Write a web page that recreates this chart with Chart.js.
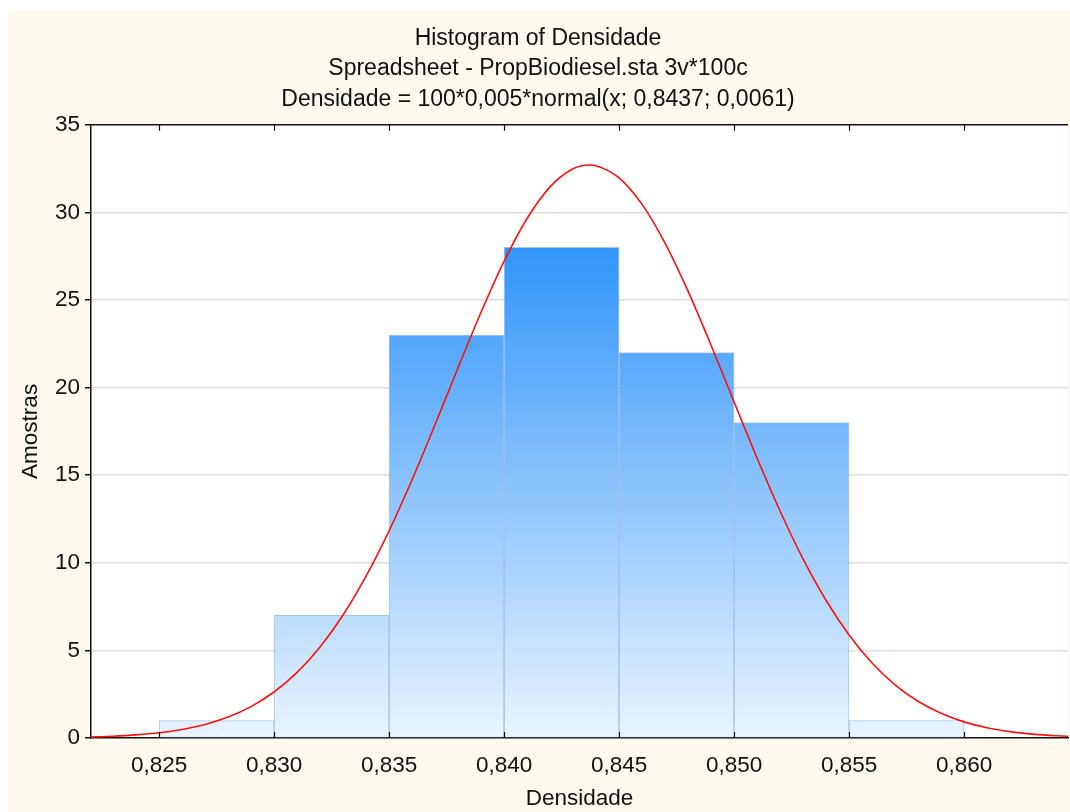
<!DOCTYPE html>
<html>
<head>
<meta charset="utf-8">
<script src="https://cdn.jsdelivr.net/npm/chart.js@4/dist/chart.umd.min.js"></script>
<style>
  html, body { margin: 0; padding: 0; background: #ffffff; }
  #wrap { position: absolute; left: 8px; top: 10px; width: 1062px; height: 802px; background: #fdf9ef; }
  canvas { display: block; }
</style>
</head>
<body>
<div id="wrap"><canvas id="c" width="1062" height="802"></canvas></div>
<script>
// ---- data ----
const titleLines = [
  'Histogram of Densidade',
  'Spreadsheet - PropBiodiesel.sta 3v*100c',
  'Densidade = 100*0,005*normal(x; 0,8437; 0,0061)'
];
const xTitle = 'Densidade';
const yTitle = 'Amostras';
const binCenters = [0.8275, 0.8325, 0.8375, 0.8425, 0.8475, 0.8525, 0.8575];
const binCounts  = [1, 7, 23, 28, 22, 18, 1];
const curveX = [0.822,0.823,0.824,0.825,0.826,0.827,0.828,0.829,0.830,0.831,0.832,0.833,0.834,0.835,0.836,0.837,0.838,0.839,0.840,0.841,0.842,0.843,0.8437,0.844,0.845,0.846,0.847,0.848,0.849,0.850,0.851,0.852,0.853,0.854,0.855,0.856,0.857,0.858,0.859,0.860,0.861,0.862,0.863,0.864,0.865];
const curveY = [0.058,0.103,0.178,0.298,0.486,0.771,1.192,1.793,2.625,3.743,5.196,7.022,9.236,11.826,14.742,17.889,21.131,24.301,27.205,29.648,31.455,32.486,32.700,32.660,31.966,30.456,28.249,25.505,22.420,19.183,15.979,12.958,10.228,7.860,5.880,4.281,3.036,2.095,1.408,0.921,0.586,0.363,0.219,0.129,0.074];
const xTickValues = [0.825, 0.830, 0.835, 0.840, 0.845, 0.850, 0.855, 0.860];
const yTickValues = [0, 5, 10, 15, 20, 25, 30, 35];
const xMin = 0.82204, xMax = 0.86452, yMin = 0, yMax = 35;

const FONT = 'Liberation Sans, Arial, sans-serif';
const FS = 22.5;
const fmt = v => v.toFixed(3).replace('.', ',');

function barGradient(ctx) {
  const chart = ctx.chart;
  const a = chart.chartArea;
  if (!a) return '#60aefc';
  const g = chart.ctx.createLinearGradient(0, a.top, 0, a.bottom);
  g.addColorStop(0, '#1f8cf9');
  g.addColorStop(0.2, '#3195fb');
  g.addColorStop(1, '#e9f4fe');
  return g;
}

const framePlugin = {
  id: 'frame',
  beforeDraw(chart) {
    const a = chart.chartArea, c = chart.ctx;
    c.save();
    c.fillStyle = '#ffffff';
    c.fillRect(a.left, a.top, a.right - a.left, a.bottom - a.top);
    c.restore();
  },
  afterDraw(chart) {
    const a = chart.chartArea, c = chart.ctx, xs = chart.scales.x;
    c.save();
    c.strokeStyle = '#111';
    c.lineWidth = 1.5;
    c.beginPath();
    c.moveTo(a.left, a.top); c.lineTo(a.right, a.top);
    c.stroke();
    c.lineWidth = 1.2;
    xTickValues.forEach(v => {
      const px = Math.round(xs.getPixelForValue(v)) + 0.5;
      c.beginPath();
      c.moveTo(px, a.bottom); c.lineTo(px, a.bottom - 6);
      c.moveTo(px, a.top); c.lineTo(px, a.top + 6);
      c.stroke();
    });
    c.restore();
  }
};

new Chart(document.getElementById('c'), {
  data: {
    datasets: [
      {
        type: 'line',
        data: curveX.map((x, i) => ({ x, y: curveY[i] })),
        borderColor: '#ff1010',
        borderWidth: 1.6,
        pointRadius: 0,
        cubicInterpolationMode: 'monotone',
        fill: false,
        order: 0
      },
      {
        type: 'bar',
        data: binCenters.map((x, i) => ({ x, y: binCounts[i] })),
        backgroundColor: barGradient,
        borderColor: 'rgba(40,110,210,0.4)',
        borderWidth: 1,
        barPercentage: 1,
        categoryPercentage: 1,
        order: 1
      }
    ]
  },
  options: {
    responsive: false,
    animation: false,
    layout: { padding: { left: 0, right: 2, top: 0, bottom: 0 } },
    plugins: {
      legend: { display: false },
      tooltip: { enabled: false },
      title: {
        display: true,
        text: titleLines,
        color: '#111',
        font: { family: FONT, size: 23, weight: 'normal', lineHeight: 1.33 },
        padding: { top: 13, bottom: 10 }
      }
    },
    scales: {
      x: {
        type: 'linear',
        offset: false,
        min: xMin, max: xMax,
        afterBuildTicks: s => { s.ticks = xTickValues.map(v => ({ value: v })); },
        afterFit: s => { s.height = 74; },
        grid: { display: false, drawTicks: false, offset: false },
        border: { display: true, color: '#111', width: 1.5 },
        ticks: {
          color: '#111', padding: 14,
          font: { family: FONT, size: FS },
          callback: v => fmt(v),
          maxRotation: 0, autoSkip: false
        },
        title: {
          display: true, text: xTitle, color: '#111',
          font: { family: FONT, size: FS },
          padding: { top: 4, bottom: 0 }
        }
      },
      y: {
        min: yMin, max: yMax,
        afterBuildTicks: s => { s.ticks = yTickValues.map(v => ({ value: v })); },
        afterFit: s => { s.width = 83; },
        grid: {
          color: ctx => (ctx.tick && (ctx.tick.value === 0 || ctx.tick.value === 35)) ? 'rgba(0,0,0,0)' : '#dedede',
          lineWidth: 1.5,
          drawTicks: true, tickLength: 6, tickColor: '#111'
        },
        border: { display: true, color: '#111', width: 1.5 },
        ticks: {
          color: '#111', padding: 5,
          font: { family: FONT, size: FS }
        },
        title: {
          display: true, text: yTitle, color: '#111',
          font: { family: FONT, size: FS },
          padding: { top: 9, bottom: 0 }
        }
      }
    }
  },
  plugins: [framePlugin]
});
</script>
</body>
</html>
